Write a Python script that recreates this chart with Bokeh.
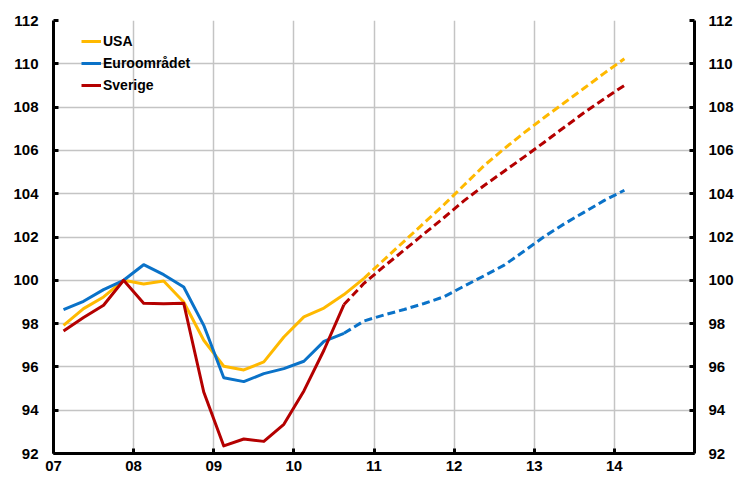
from bokeh.plotting import figure
from bokeh.models import Range1d, LinearAxis, FixedTicker, Legend, LegendItem
from bokeh.embed import file_html
from bokeh.resources import INLINE

# ---- data -------------------------------------------------------------
quarters = ["2007Q1", "2007Q2", "2007Q3", "2007Q4",
            "2008Q1", "2008Q2", "2008Q3", "2008Q4",
            "2009Q1", "2009Q2", "2009Q3", "2009Q4",
            "2010Q1", "2010Q2", "2010Q3", "2010Q4",
            "2011Q1", "2011Q2", "2011Q3", "2011Q4",
            "2012Q1", "2012Q2", "2012Q3", "2012Q4",
            "2013Q1", "2013Q2", "2013Q3", "2013Q4",
            "2014Q1"]

usa = [97.92, 98.69, 99.23, 100.0,
       99.83, 99.97, 99.00, 97.23,
       96.03, 95.86, 96.23, 97.38,
       98.31, 98.72, 99.34, 100.09,
       100.95, 101.80, 102.65, 103.50,
       104.40, 105.30, 106.08, 106.82,
       107.52, 108.20, 108.88, 109.57,
       110.23]

euro = [98.65, 99.03, 99.57, 100.0,
        100.72, 100.26, 99.69, 97.92,
        95.50, 95.32, 95.69, 95.92,
        96.26, 97.18, 97.55, 98.12,
        98.40, 98.65, 98.93, 99.24,
        99.73, 100.21, 100.70, 101.35,
        102.02, 102.61, 103.15, 103.69,
        104.16]

sverige = [97.66, 98.28, 98.85, 100.0,
           98.94, 98.92, 98.94, 94.84,
           92.35, 92.67, 92.56, 93.35,
           94.89, 96.77, 98.88, 99.86,
           100.64, 101.39, 102.15, 102.90,
           103.68, 104.38, 105.04, 105.70,
           106.38, 107.07, 107.75, 108.39,
           109.00]

# last quarter with outcome (solid line), forecast afterwards (dashed)
last_outcome = {"USA": "2010Q4", "Euroområdet": "2010Q3", "Sverige": "2010Q3"}

series_names = ["USA", "Euroområdet", "Sverige"]
series_values = [usa, euro, sverige]
series_colors = ["#FFB900", "#0A72C8", "#B40000"]

year_ticks = [2007, 2008, 2009, 2010, 2011, 2012, 2013, 2014]
year_labels = ["07", "08", "09", "10", "11", "12", "13", "14"]
value_ticks = [92, 94, 96, 98, 100, 102, 104, 106, 108, 110, 112]

# ---- figure -----------------------------------------------------------
x = [int(q[:4]) + (int(q[-1]) - 0.5) / 4 for q in quarters]

FONT = "Liberation Sans"

p = figure(width=736, height=478,
           x_range=Range1d(2007, 2015), y_range=Range1d(92, 112),
           output_backend="svg", toolbar_location=None,
           min_border_left=53, min_border_right=42,
           min_border_top=20, min_border_bottom=25)
p.outline_line_color = None
p.background_fill_color = "white"
p.border_fill_color = "white"

def style_axis(ax, standoff):
    ax.axis_line_width = 3
    ax.axis_line_color = "black"
    ax.major_tick_in = 5
    ax.major_tick_out = 0
    ax.major_tick_line_width = 3
    ax.minor_tick_line_color = None
    ax.major_label_text_font = FONT
    ax.major_label_text_font_style = "bold"
    ax.major_label_text_font_size = "15px"
    ax.major_label_text_color = "black"
    ax.major_label_standoff = standoff

# bottom axis
xa = p.xaxis[0]
xa.ticker = FixedTicker(ticks=year_ticks)
xa.major_label_overrides = {t: l for t, l in zip(year_ticks, year_labels)}
style_axis(xa, 7)

# left axis
ya = p.yaxis[0]
ya.ticker = FixedTicker(ticks=value_ticks)
style_axis(ya, 15)

# right axis
yr = LinearAxis(ticker=FixedTicker(ticks=value_ticks))
style_axis(yr, 14)
p.add_layout(yr, "right")

# grid
for g in (p.xgrid[0], p.ygrid[0]):
    g.grid_line_color = "#C4C4C4"
    g.grid_line_width = 1.5
p.xgrid[0].ticker = FixedTicker(ticks=year_ticks + [2015])
p.ygrid[0].ticker = FixedTicker(ticks=value_ticks)

# lines
items = []
for name, vals, col in zip(series_names, series_values, series_colors):
    n = quarters.index(last_outcome[name]) + 1
    r = p.line(x[:n], vals[:n], line_color=col, line_width=3, line_join="round")
    p.line(x[n - 1:], vals[n - 1:], line_color=col, line_width=3,
           line_dash="8 4", line_join="round")
    items.append(LegendItem(label=name, renderers=[r]))

legend = Legend(items=items, location=(28, 358))
legend.padding = 0
legend.margin = 0
legend.spacing = 2
legend.glyph_width = 20
legend.glyph_height = 20
legend.label_height = 20
legend.label_standoff = 2
legend.border_line_color = None
legend.background_fill_alpha = 0
legend.label_text_font = FONT
legend.label_text_font_style = "bold"
legend.label_text_font_size = "14px"
legend.label_text_color = "black"
p.add_layout(legend, "center")

open("out.html", "w").write(file_html(p, INLINE))
